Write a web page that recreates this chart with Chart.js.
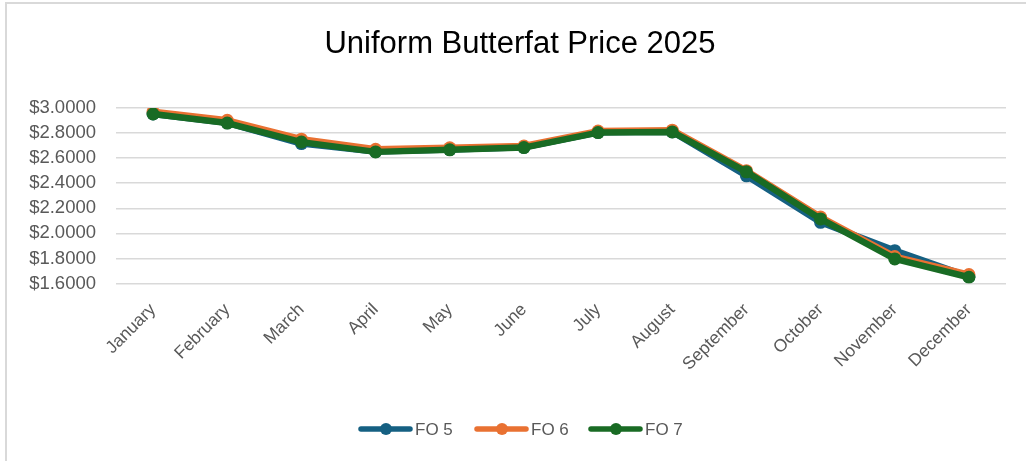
<!DOCTYPE html>
<html>
<head>
<meta charset="utf-8">
<script src="https://cdn.jsdelivr.net/npm/chart.js@4/dist/chart.umd.min.js"></script>
<style>
  html, body { margin: 0; padding: 0; background: #ffffff; }
  #frame { position: absolute; left: 5px; top: 2px; width: 1030px; height: 470px;
           border-left: 2px solid #d9d9d9; border-top: 2px solid #d9d9d9; }
  #wrap { position: absolute; left: 0; top: 0; width: 1026px; height: 461px; }
</style>
</head>
<body>
<div id="frame"></div>
<div id="wrap"><canvas id="c" width="1026" height="461"></canvas></div>
<script>
const chartTitle = "Uniform Butterfat Price 2025";
const categories = ["January","February","March","April","May","June","July","August","September","October","November","December"];
const seriesNames = ["FO 5", "FO 6", "FO 7"];
const fo5 = [2.952, 2.882, 2.716, 2.652, 2.668, 2.686, 2.806, 2.810, 2.459, 2.088, 1.862, 1.655];
const fo6 = [2.970, 2.902, 2.751, 2.671, 2.682, 2.697, 2.816, 2.823, 2.500, 2.130, 1.815, 1.671];
const fo7 = [2.952, 2.880, 2.728, 2.650, 2.666, 2.684, 2.804, 2.809, 2.491, 2.115, 1.796, 1.650];
const yTicks = [1.6, 1.8, 2.0, 2.2, 2.4, 2.6, 2.8, 3.0];
const colors = ["#156082", "#E97132", "#196B24"];
const FONT = '"Liberation Sans", Arial, sans-serif';

const decorPlugin = {
  id: 'decor',
  afterDraw(chart) {
    const ctx = chart.ctx;
    ctx.save();
    // title
    ctx.fillStyle = '#000000';
    ctx.font = '31px ' + FONT;
    ctx.textAlign = 'center';
    ctx.textBaseline = 'middle';
    ctx.fillText(chartTitle, 520, 44);
    // legend
    const y = 429;
    const starts = [361, 477, 591];
    ctx.font = '17px ' + FONT;
    ctx.textAlign = 'left';
    seriesNames.forEach((name, i) => {
      const x0 = starts[i];
      ctx.strokeStyle = colors[i];
      ctx.lineWidth = 5.5;
      ctx.lineCap = 'round';
      ctx.beginPath(); ctx.moveTo(x0, y); ctx.lineTo(x0 + 49, y); ctx.stroke();
      ctx.fillStyle = colors[i];
      ctx.beginPath(); ctx.arc(x0 + 25, y, 6, 0, Math.PI * 2); ctx.fill();
      ctx.fillStyle = '#595959';
      ctx.fillText(name, x0 + 54, y + 1);
    });
    ctx.restore();
  }
};

const data = [fo5, fo6, fo7];
new Chart(document.getElementById('c'), {
  type: 'line',
  data: {
    labels: categories,
    datasets: data.map((d, i) => ({
      label: seriesNames[i],
      data: d,
      borderColor: colors[i],
      backgroundColor: colors[i],
      borderWidth: 6.5,
      pointRadius: 6.5,
      pointBorderWidth: 0,
      pointBackgroundColor: colors[i],
      borderCapStyle: 'round',
      borderJoinStyle: 'round',
      tension: 0,
      order: 3 - i
    }))
  },
  options: {
    responsive: false,
    animation: false,
    devicePixelRatio: 1,
    layout: { padding: { left: 0, right: 20, top: 108, bottom: 0 } },
    plugins: {
      legend: { display: false },
      tooltip: { enabled: false },
      title: { display: false }
    },
    scales: {
      x: {
        offset: true,
        grid: { display: false },
        border: { display: false },
        ticks: {
          color: '#595959',
          font: { family: FONT, size: 17.5 },
          maxRotation: 45, minRotation: 45,
          autoSkip: false,
          padding: 8
        },
        afterFit(s) { s.height = 461 - 283.5; }
      },
      y: {
        min: 1.6, max: 3.0,
        afterBuildTicks(s) { s.ticks = yTicks.map(v => ({ value: v })); },
        grid: { color: '#d9d9d9', lineWidth: 1.5, drawTicks: false },
        border: { display: false },
        ticks: {
          color: '#595959',
          font: { family: FONT, size: 18.5, lineHeight: 1 },
          autoSkip: false,
          padding: 20,
          callback: v => '$' + Number(v).toFixed(4)
        },
        afterFit(s) { s.width = 116; }
      }
    }
  },
  plugins: [decorPlugin]
});
</script>
</body>
</html>
